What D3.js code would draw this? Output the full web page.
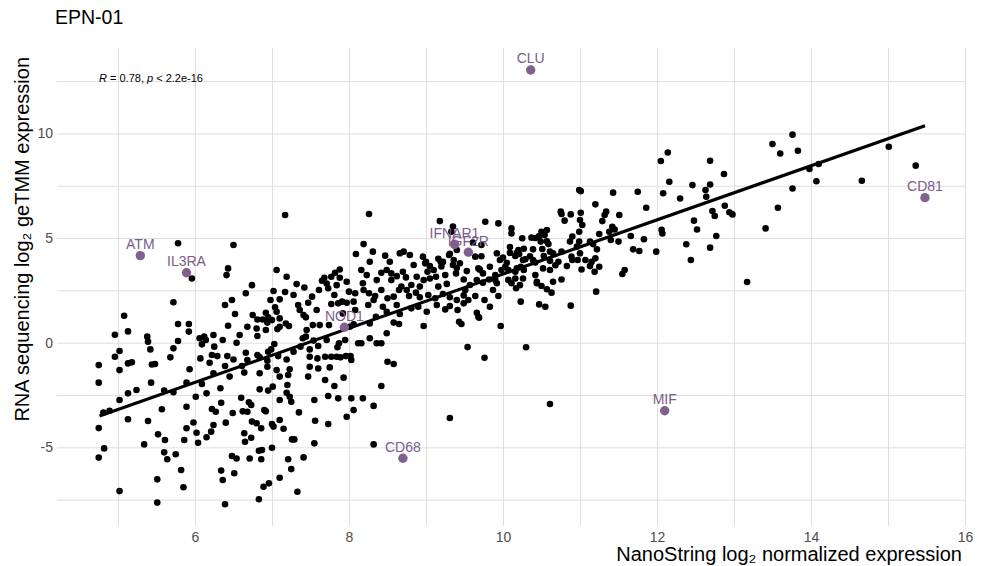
<!DOCTYPE html>
<html><head><meta charset="utf-8">
<script src="https://cdn.jsdelivr.net/npm/d3@7"></script>
<style>
body{margin:0;background:#fff}
svg{display:block}
text{font-family:"Liberation Sans",Arial,Helvetica,sans-serif}
</style>
</head><body><svg id="chart" width="983" height="566"></svg>
<script>
// NanoString log2 (x), RNA-seq log2 geTMM (y) for each gene
const genePoints = [
[5.78,4.75],[5.08,1.29],[4.96,0.38],[5.13,0.54],[5.78,0.89],[5.38,0.29],[5.39,0.05],[5.78,0.08],[5.72,-0.27],[5.42,-0.32],
[5.68,-0.70],[5.02,-0.40],[4.96,-0.67],[4.75,-1.07],[5.02,-1.31],[5.13,-0.99],[5.18,-0.94],[5.44,-1.04],[5.48,-1.02],[4.75,-1.91],
[5.43,-1.91],[5.24,-2.26],[5.13,-2.42],[5.02,-2.74],[5.60,-2.29],[5.72,-2.37],[5.57,-3.18],[5.39,-3.74],[5.13,-3.66],[4.75,-4.08],
[4.82,-5.05],[4.75,-5.49],[5.34,-4.86],[5.52,-4.38],[5.61,-4.65],[5.60,-5.24],[5.64,-5.57],[5.75,-5.33],[5.51,-6.53],[5.02,-7.09],
[5.51,-7.64],[5.72,1.93],[4.81,-3.34],[4.89,-3.25],[5.89,-1.91],[6.01,-2.58],[5.89,-3.06],[5.98,-3.81],[5.89,-4.09],[5.86,-4.65],
[6.02,-4.30],[6.04,-4.78],[6.15,-4.52],[6.21,-4.25],[6.24,-3.93],[6.22,-3.17],[6.27,-3.30],[6.34,-2.87],[6.40,-3.82],[6.49,-3.36],
[6.34,-6.11],[6.36,-6.56],[6.39,-7.72],[6.51,-6.24],[6.48,-5.41],[6.54,-5.53],[6.64,-4.33],[6.65,-4.73],[6.73,-4.54],[6.71,-5.53],
[6.83,-5.16],[6.87,-5.13],[6.86,-5.57],[6.83,-7.48],[6.89,-6.88],[6.96,-6.72],[7.00,-5.02],[7.10,-6.45],[7.21,-5.57],[7.25,-6.04],
[7.33,-7.12],[7.26,-4.62],[7.29,-4.62],[7.15,-4.11],[7.00,-3.89],[7.10,-3.69],[7.02,-4.01],[6.86,-4.09],[6.80,-3.85],[6.74,-3.77],
[6.68,-3.30],[6.62,-3.28],[6.73,-2.98],[6.70,-2.85],[6.60,-2.63],[6.90,-3.22],[6.92,-3.28],[6.84,-2.23],[6.95,-2.29],[7.01,-2.10],
[7.10,-2.74],[7.19,-2.39],[7.23,-2.58],[7.25,-2.82],[7.35,-3.33],[7.20,-2.02],[5.82,-6.08],[5.85,-6.91],[6.33,-2.18],[6.15,-2.42],
[6.09,-1.97],[7.17,6.10],
[7.55,-2.74],[7.69,-1.78],[7.73,-2.55],[7.86,-2.66],[7.81,-2.07],[7.93,-1.67],[8.03,-2.66],[8.06,-3.22],[7.97,-3.54],[7.56,-3.73],
[7.73,-3.89],[7.55,-4.81],[7.41,-5.48],[8.16,-0.03],[8.12,-0.03],[8.36,-0.03],[8.42,-0.03],[8.50,-0.91],[8.58,-1.02],[8.42,-2.07],
[8.32,-4.86],[8.32,-3.02],[8.18,-2.66],[9.31,-3.60],[9.54,-0.21],[9.76,-0.72],[10.30,-0.22],[10.61,-2.93],
[6.50,4.67],[5.96,3.07],[6.43,3.55],[6.41,3.23],[7.06,3.47],[7.19,3.15],[6.74,2.75],[6.66,2.36],[7.32,2.80],[7.42,2.64],
[7.02,2.47],[7.17,2.42],[7.28,2.28],[7.10,2.07],[6.98,2.04],[6.48,2.04],[6.39,1.80],[6.52,1.37],[6.75,1.32],[6.92,1.43],
[6.88,1.11],[6.95,1.21],[7.00,1.08],[7.04,1.69],[7.06,1.48],[7.10,1.16],[7.10,0.76],[7.07,0.65],[7.22,0.80],[7.34,1.80],
[7.36,1.56],[7.41,1.32],[7.44,1.21],[7.47,1.91],[7.52,2.20],[7.61,2.52],[7.65,2.96],[7.68,3.10],[7.82,3.34],[7.88,3.50],
[7.88,3.10],[7.97,2.91],[8.09,4.24],[7.73,2.60],[7.81,2.28],[7.77,1.85],[7.86,1.88],[7.91,1.96],[7.97,1.91],[8.08,2.36],
[8.06,1.96],[8.08,1.56],[7.62,0.84],[7.74,0.84],[7.53,0.84],[8.01,0.76],[8.06,0.88],[6.81,1.11],[6.68,0.76],[6.80,0.68],
[6.81,0.32],[6.58,0.37],[6.43,0.81],[6.36,0.13],[6.24,0.37],[6.12,0.29],[6.14,0.13],[6.06,0.21],[6.09,-0.08],[5.92,0.89],
[5.92,0.53],[6.25,-0.19],[6.22,-0.59],[6.29,-0.64],[6.54,0.00],[6.42,-0.64],[6.50,-0.80],[6.66,-0.48],[6.68,-0.83],[6.81,-0.59],
[6.84,-0.70],[6.95,-0.43],[6.99,-0.32],[7.03,-0.06],[7.08,-0.64],[7.19,-0.80],[7.23,-1.27],[7.28,-0.43],[7.37,-0.19],[7.40,0.21],
[7.44,0.29],[7.54,0.10],[7.49,-0.32],[7.60,-0.16],[7.49,-0.67],[7.59,-0.75],[7.69,-0.67],[7.77,-0.67],[7.84,-0.67],[7.89,-0.70],
[7.96,-0.64],[8.02,-0.64],[8.03,-0.83],[7.85,-0.22],[7.87,-0.03],[7.49,-1.15],[7.60,-1.23],[7.75,-1.18],[6.94,-1.15],[6.61,-1.11],
[6.64,-1.43],[6.39,-1.11],[6.19,-0.96],[6.07,-0.75],[5.93,-1.27],[7.47,-1.62],[7.21,-1.54],[6.92,0.61],[6.94,0.96],[7.18,0.92],
[7.71,2.83],[7.77,3.15],[7.84,2.75],[8.00,2.44],[7.92,1.40],[7.58,1.56],[7.45,0.61],[7.71,0.13],[7.95,0.13],[6.94,-0.86],
[7.06,-1.31],[6.84,-1.46],[7.10,-1.62],[6.24,-1.46],[6.45,-1.62],
[8.26,6.15],[9.18,5.81],[9.33,5.30],[9.77,5.78],[9.94,5.70],[8.19,4.71],[8.31,4.35],[8.27,3.87],[8.47,4.16],[8.66,4.27],
[8.71,4.35],[8.79,4.19],[8.96,4.11],[9.00,3.87],[9.05,3.66],[9.19,3.87],[9.30,4.19],[9.36,3.95],[9.44,3.79],[9.53,3.42],
[9.61,4.78],[9.72,4.67],[9.68,3.55],[9.74,3.31],[9.83,3.63],[9.92,4.27],[9.96,3.95],[9.98,3.47],[9.90,3.23],[8.16,3.47],
[8.23,3.23],[8.18,2.84],[8.36,2.99],[8.42,3.34],[8.49,3.47],[8.55,3.31],[8.55,2.99],[8.62,3.18],[8.70,3.39],[8.74,3.12],
[8.81,2.76],[8.88,3.15],[8.92,2.68],[8.97,2.99],[9.05,3.07],[9.13,3.15],[9.16,2.68],[9.25,3.23],[9.27,2.81],[9.39,3.31],
[9.49,3.02],[9.57,2.76],[9.51,2.52],[9.66,2.99],[9.74,2.87],[9.82,3.02],[9.92,2.84],[9.87,2.52],[8.19,2.52],[8.26,2.36],
[8.34,2.23],[8.42,2.52],[8.50,2.12],[8.58,2.20],[8.65,2.52],[8.75,2.52],[8.78,2.23],[8.87,2.39],[8.92,2.17],[9.03,2.28],
[9.12,2.12],[9.22,2.33],[9.31,2.17],[9.40,2.04],[9.49,2.26],[9.55,2.04],[9.64,2.23],[9.76,2.04],[9.94,2.23],[8.25,1.80],
[8.32,2.04],[8.44,1.72],[8.49,1.48],[8.62,1.80],[8.66,1.37],[8.81,1.64],[8.90,1.72],[9.01,1.48],[9.25,1.59],[9.41,1.56],
[9.49,1.88],[9.66,1.43],[9.68,1.24],[8.58,0.96],[8.65,0.89],[8.27,0.92],[8.35,1.24],[8.97,0.80],[9.43,1.00],[9.46,0.89],
[9.69,1.19],[9.97,0.80],[8.27,0.21],[8.49,0.45],[9.14,1.80],[9.31,1.75],[9.83,1.72],[8.84,3.71],[8.53,3.87],[8.68,2.68],
[9.10,3.47],[9.64,4.11],[9.40,4.43],
[9.35,5.55],[8.99,3.79],[9.02,3.39],[9.16,4.01],[9.22,3.86],[9.20,3.64],[9.31,4.25],[9.35,3.71],[9.40,3.57],[9.72,4.13],
[9.70,3.49],[10.00,4.07],[10.05,3.82],[10.09,4.29],[10.18,4.29],[10.29,3.99],[10.35,4.13],[10.42,5.00],[10.54,5.15],[10.57,4.85],
[10.65,4.27],[10.72,3.87],[10.52,3.55],[10.44,2.84],[10.11,2.84],[10.16,3.39],[9.90,2.99],[11.07,3.95],[11.19,3.39],[11.15,3.86],
[11.00,4.27],
[10.99,7.29],[11.01,7.24],[11.43,7.17],[11.75,7.21],[12.16,7.69],[12.08,7.14],[11.86,6.45],[11.20,6.61],[10.75,6.26],[10.76,6.15],
[10.88,6.13],[11.01,6.21],[10.80,5.83],[11.00,5.86],[11.03,5.62],[10.99,5.30],[11.34,6.26],[11.32,6.10],[11.29,5.81],[11.51,6.10],
[11.42,5.54],[11.45,5.41],[11.25,5.19],[11.38,5.30],[11.40,4.91],[11.50,4.83],[11.66,5.10],[11.83,4.94],[12.06,5.39],[12.07,5.22],
[11.69,4.46],[11.77,4.38],[11.99,4.35],[10.50,5.30],[10.57,5.38],[10.47,5.10],[10.49,4.83],[10.37,5.02],[10.25,4.99],[10.11,5.46],
[10.11,5.22],[10.09,4.57],[10.20,4.43],[10.27,4.49],[10.39,4.46],[10.51,4.48],[10.59,4.71],[10.61,4.35],[10.87,4.83],[10.90,5.07],
[10.99,4.83],[11.13,4.83],[11.17,4.71],[11.22,4.46],[10.16,4.14],[10.21,4.24],[10.26,3.95],[10.39,3.95],[10.53,4.14],[10.03,3.63],
[10.07,3.47],[10.18,3.55],[10.23,3.63],[10.27,3.47],[10.42,3.83],[10.61,3.91],[10.68,3.70],[10.76,4.35],[10.89,4.11],[10.90,3.95],
[10.97,3.95],[10.83,3.66],[10.61,3.47],[10.42,3.23],[10.44,2.91],[10.50,2.71],[10.57,2.55],[10.63,2.39],[10.76,3.02],[11.02,3.50],
[11.13,3.66],[11.20,4.03],[11.25,3.63],[11.21,2.44],[10.88,1.77],[10.55,1.72],[10.47,1.83],[10.23,1.96],[10.16,3.07],[10.17,2.60],
[10.22,2.75],[11.58,3.47],[11.55,3.28],[10.65,2.91],[10.07,3.00],[10.26,3.07],[10.96,4.59],
[12.30,6.89],[12.46,7.53],[12.69,8.69],[12.69,7.56],[12.63,7.29],[12.64,6.97],[12.87,8.06],[12.88,6.54],[12.72,6.29],[12.75,6.05],
[12.94,6.23],[12.98,6.13],[12.77,5.10],[12.69,4.54],[12.48,5.83],[12.52,5.41],[12.38,4.70],[12.44,3.95],[13.17,2.90],[13.41,5.46],
[13.57,6.45],[13.76,7.37],[13.50,9.49],[13.60,9.04],[13.76,9.94],[13.83,9.17],[13.98,8.30],[14.10,8.54],[14.07,7.71],[14.66,7.74],
[15.01,9.36],[15.36,8.46],[12.05,8.68],[12.14,9.09]
];

const labelGenes = ["CLU","ATM","IL3RA","NOD1","CD68","IFNAR1","IGF2R","MIF","CD81"];
const labelX = [10.36, 5.29, 5.89, 7.94, 8.70, 9.37, 9.55, 12.10, 15.48];
const labelY = [13.03, 4.16, 3.34, 0.74, -5.52, 4.70, 4.32, -3.25, 6.93];

const fitX = [4.76, 15.48];
const fitY = [-3.50, 10.37];

const xTicks = [6, 8, 10, 12, 14, 16];
const xMinor = [5, 7, 9, 11, 13, 15];
const yTicks = [-5, 0, 5, 10];
const yMinor = [-7.5, -2.5, 2.5, 7.5, 12.5];

const titleText = "EPN-01";
const xTitle = "NanoString log\u2082 normalized expression";
const yTitle = "RNA sequencing log\u2082 geTMM expression";

const svg = d3.select("#chart");
const L = 57, R = 966, T = 48, B = 526;
const x = d3.scaleLinear().domain([4.208, 16.013]).range([L, R]);
const y = d3.scaleLinear().domain([-8.758, 14.08]).range([B, T]);
const gridCol = "#dedede";
const fmt = d => String(d);

// grid
const gx = svg.append("g").attr("transform", `translate(0,${B})`)
  .call(d3.axisBottom(x).tickValues(xTicks.concat(xMinor)).tickSize(-(B - T)).tickFormat(""));
gx.select(".domain").remove();
gx.selectAll("line").attr("stroke", gridCol).attr("stroke-width", 1);
const gy = svg.append("g").attr("transform", `translate(${L},0)`)
  .call(d3.axisLeft(y).tickValues(yTicks.concat(yMinor)).tickSize(-(R - L)).tickFormat(""));
gy.select(".domain").remove();
gy.selectAll("line").attr("stroke", gridCol).attr("stroke-width", 1);

// tick labels
const ax = svg.append("g").attr("transform", `translate(0,${B})`)
  .call(d3.axisBottom(x).tickValues(xTicks).tickSize(0).tickPadding(6).tickFormat(fmt));
ax.select(".domain").remove();
ax.selectAll("text").attr("font-size", 14).attr("fill", "#4d4d4d")
  .attr("font-family", '"Liberation Sans",Arial,sans-serif');
const ay = svg.append("g").attr("transform", `translate(${L},0)`)
  .call(d3.axisLeft(y).tickValues(yTicks).tickSize(0).tickPadding(4).tickFormat(fmt));
ay.select(".domain").remove();
ay.selectAll("text").attr("font-size", 14).attr("fill", "#4d4d4d")
  .attr("font-family", '"Liberation Sans",Arial,sans-serif');

// points
svg.append("g").selectAll("circle").data(genePoints).join("circle")
  .attr("cx", d => x(d[0])).attr("cy", d => y(d[1])).attr("r", 3.3).attr("fill", "#000");

// regression line
svg.append("path")
  .datum(fitX.map((v, i) => [v, fitY[i]]))
  .attr("d", d3.line().x(d => x(d[0])).y(d => y(d[1])))
  .attr("stroke", "#000").attr("stroke-width", 3.2).attr("fill", "none");

// labelled genes
const lab = labelGenes.map((g, i) => ({g, x: labelX[i], y: labelY[i]}));
svg.append("g").selectAll("circle").data(lab).join("circle")
  .attr("cx", d => x(d.x)).attr("cy", d => y(d.y)).attr("r", 4.7)
  .attr("fill", "#80608f");
svg.append("g").selectAll("text").data(lab).join("text")
  .attr("x", d => x(d.x)).attr("y", d => y(d.y) - 6.5)
  .attr("text-anchor", "middle").attr("font-size", 14).attr("fill", "#7b5b8c")
  .text(d => d.g);

// correlation annotation
const ann = svg.append("text").attr("x", 99).attr("y", 82).attr("font-size", 11).attr("fill", "#000");
ann.append("tspan").attr("font-style", "italic").text("R");
ann.append("tspan").text(" = 0.78, ");
ann.append("tspan").attr("font-style", "italic").text("p");
ann.append("tspan").text(" < 2.2e-16");

// titles
svg.append("text").attr("x", 55).attr("y", 24).attr("font-size", 19.5).attr("fill", "#000").text(titleText);
svg.append("text").attr("x", R - 4).attr("y", 561).attr("text-anchor", "end")
  .attr("font-size", 20).attr("fill", "#000").text(xTitle);
svg.append("text").attr("transform", `translate(29,${T + 9}) rotate(-90)`)
  .attr("text-anchor", "end").attr("font-size", 20).attr("fill", "#000").text(yTitle);
</script>
</body></html>
